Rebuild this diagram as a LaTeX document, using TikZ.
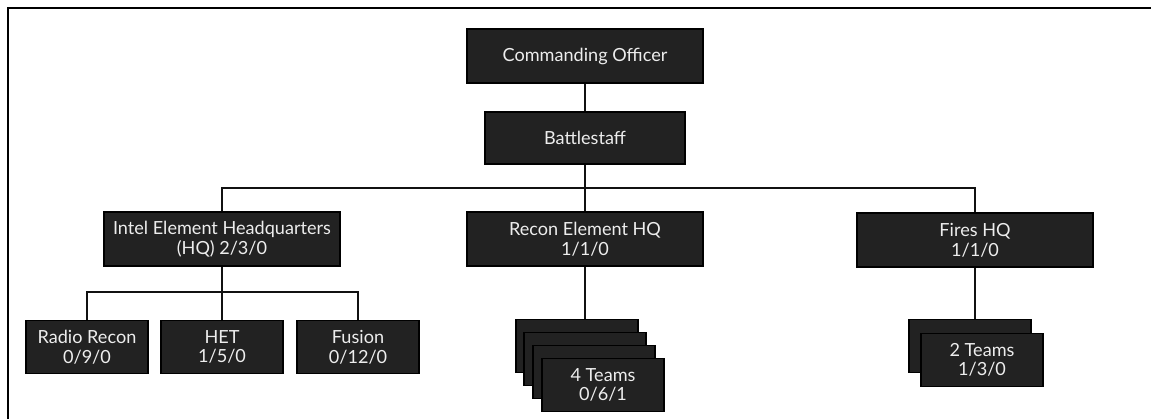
\documentclass[tikz,border=0pt]{standalone}
\usepackage{fontspec}
\setmainfont{Lato}
\usepackage{tikz}
\usetikzlibrary{positioning,calc}
\definecolor{UnitFill}{HTML}{222222}
\definecolor{UnitText}{HTML}{EDEDED}
\definecolor{LinkGray}{HTML}{111111}

\begin{document}
\begin{tikzpicture}[x=0.02cm, y=-0.02cm,
  unit/.style={
    draw=black, fill=UnitFill, text=UnitText, line width=0.9pt,
    minimum width=4.72cm, minimum height=1.08cm,
    font=\fontsize{10.3}{11.2}\selectfont, align=center, inner sep=0pt
  },
  subunit/.style={unit, minimum width=2.44cm, minimum height=1.06cm},
  card/.style={subunit, text=UnitFill},
  link/.style={draw=LinkGray, line width=1.2pt},
  frameline/.style={draw=black, line width=1.4pt}
]
\useasboundingbox (0,0) rectangle (1151,419);

% Frame (top and left only)
\draw[frameline] (8,419) -- (8,8) -- (1151,8);

% Command
\node[unit] (co) at (585,56) {Commanding Officer};
\node[unit, minimum width=4.0cm, minimum height=1.04cm] (bs) at (585,138) {Battlestaff};

% Elements
\node[unit] (intel) at (222,239) {Intel Element Headquarters\\(HQ) 2/3/0};
\node[unit] (recon) at (585,239) {Recon Element HQ\\1/1/0};
\node[unit] (fires) at (975,240) {Fires HQ\\1/1/0};

% Intel sections
\node[subunit] (radio)  at (87,347)  {Radio Recon\\0/9/0};
\node[subunit] (het)    at (222,347) {HET\\1/5/0};
\node[subunit] (fusion) at (358,347) {Fusion\\0/12/0};

% Recon teams (stacked)
\node[card] (reconA) at (577,346) {};
\node[card] (reconB) at (585,359) {};
\node[card] (reconC) at (594,372) {};
\node[subunit] (recon4) at (603,385) {4 Teams\\0/6/1};

% Fires teams (stacked)
\node[card] (firesA) at (970,346) {};
\node[subunit] (fires2) at (982,360) {2 Teams\\1/3/0};

% Connectors
\coordinate (bar) at (585,188);
\coordinate (subbar) at (222,292);
\draw[link] (co.south) -- (bs.north);
\draw[link] (bs.south) -- (recon.north);
\draw[link] (intel.north) |- (bar) -| (fires.north);
\draw[link] (intel.south) -- (het.north);
\draw[link] (radio.north) |- (subbar) -| (fusion.north);
\draw[link] (recon.south) -- (recon.south |- reconA.north);
\draw[link] (fires.south) -- (fires.south |- firesA.north);

\end{tikzpicture}
\end{document}
